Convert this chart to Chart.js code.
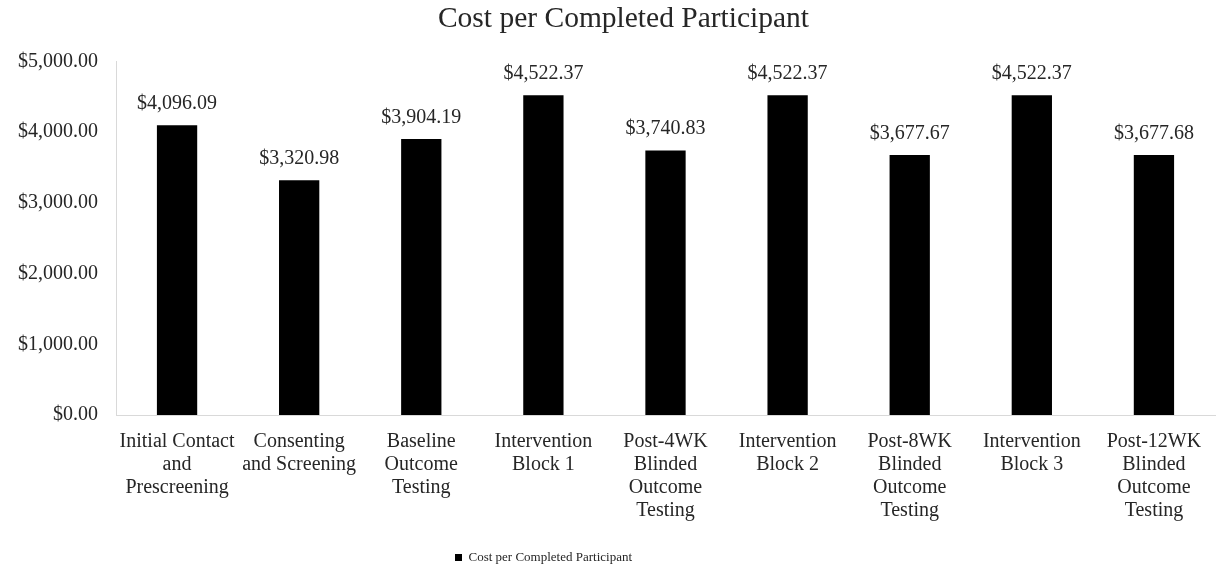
<!DOCTYPE html>
<html>
<head>
<meta charset="utf-8">
<script src="https://cdn.jsdelivr.net/npm/chart.js@4"></script>
<style>
  html, body { margin: 0; padding: 0; background: #fff; }
  #wrap { width: 1224px; height: 571px; }
</style>
</head>
<body>
<div id="wrap"><canvas id="costChart"></canvas></div>
<script>
const categories = [
    ["Initial Contact", "and", "Prescreening"],
    ["Consenting", "and Screening"],
    ["Baseline", "Outcome", "Testing"],
    ["Intervention", "Block 1"],
    ["Post-4WK", "Blinded", "Outcome", "Testing"],
    ["Intervention", "Block 2"],
    ["Post-8WK", "Blinded", "Outcome", "Testing"],
    ["Intervention", "Block 3"],
    ["Post-12WK", "Blinded", "Outcome", "Testing"]
];
const costValues = [4096.09, 3320.98, 3904.19, 4522.37, 3740.83, 4522.37, 3677.67, 4522.37, 3677.68];
const yTicks = [0, 1000, 2000, 3000, 4000, 5000];

const serif = "'Liberation Serif', 'Times New Roman', serif";
const textColor = "#262626";

function money(v) {
    return "$" + v.toLocaleString("en-US", { minimumFractionDigits: 2, maximumFractionDigits: 2 });
}

/*
 * Value labels above each bar
 */
const barLabels = {
    id: "barLabels",
    afterDatasetsDraw(chart) {
        const ctx = chart.ctx;
        const meta = chart.getDatasetMeta(0);
        ctx.save();
        ctx.font = "20px " + serif;
        ctx.fillStyle = textColor;
        ctx.textAlign = "center";
        ctx.textBaseline = "alphabetic";
        meta.data.forEach((bar, i) => {
            ctx.fillText(money(costValues[i]), bar.x, bar.y - 16);
        });
        ctx.restore();
    }
};

/*
 * Nudge legend and title like the original
 */
const boxShift = {
    id: "boxShift",
    afterLayout(chart) {
        if (chart.legend) {
            chart.legend.left -= 64;
            chart.legend.right -= 64;
            chart.legend.top += 4;
            chart.legend.bottom += 4;
        }
        if (chart.titleBlock) {
            chart.titleBlock.left += 16;
            chart.titleBlock.right += 16;
        }
    }
};

new Chart(document.getElementById("costChart"), {
    type: "bar",
    data: {
        labels: categories,
        datasets: [
            {
                label: "Cost per Completed Participant",
                data: costValues,
                backgroundColor: "#000000",
                borderWidth: 0,
                categoryPercentage: 1,
                barPercentage: 0.33
            }
        ]
    },
    options: {
        responsive: true,
        maintainAspectRatio: false,
        animation: false,
        layout: {
            padding: { left: 0, right: 9, top: 0, bottom: 1 }
        },
        scales: {
            y: {
                min: 0,
                max: 5000,
                afterBuildTicks(scale) {
                    scale.ticks = yTicks.map(v => ({ value: v }));
                },
                afterFit(scale) {
                    scale.width = 116;
                },
                grid: { display: false, drawTicks: false },
                border: { display: true, color: "#d9d9d9", width: 1 },
                ticks: {
                    padding: 18,
                    color: textColor,
                    font: { family: serif, size: 20 },
                    callback: v => money(v)
                }
            },
            x: {
                grid: { display: false, drawTicks: false },
                border: { display: true, color: "#d9d9d9", width: 1 },
                afterFit(scale) {
                    scale.height = 132;
                },
                ticks: {
                    padding: 15,
                    maxRotation: 0,
                    autoSkip: false,
                    color: textColor,
                    font: { family: serif, size: 20, lineHeight: 1.15 }
                }
            }
        },
        plugins: {
            title: {
                display: true,
                text: "Cost per Completed Participant",
                color: textColor,
                font: { family: serif, size: 29.5, weight: "normal" },
                padding: { top: 2, bottom: 24 }
            },
            legend: {
                display: true,
                position: "bottom",
                labels: {
                    color: textColor,
                    font: { family: serif, size: 13 },
                    boxWidth: 7,
                    boxHeight: 7,
                    padding: 0
                }
            },
            tooltip: { enabled: false }
        }
    },
    plugins: [barLabels, boxShift]
});
</script>
</body>
</html>
